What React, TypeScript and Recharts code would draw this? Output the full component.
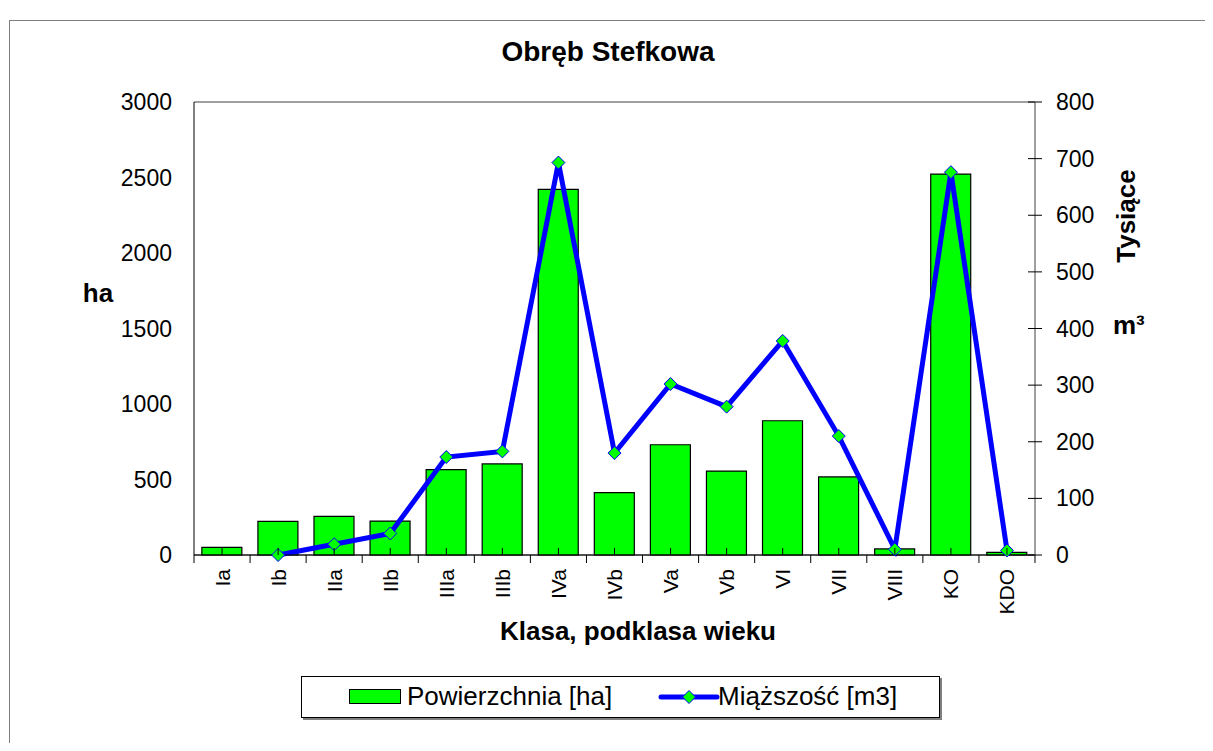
import { Bar, CartesianGrid, ComposedChart, Legend, Line, XAxis, YAxis } from 'recharts'

const CATEGORIES = ['Ia', 'Ib', 'IIa', 'IIb', 'IIIa', 'IIIb', 'IVa', 'IVb', 'Va', 'Vb', 'VI', 'VII', 'VIII', 'KO', 'KDO']
const AREA_HA = [51, 223, 256, 225, 565, 603, 2421, 413, 730, 556, 889, 517, 40, 2523, 18]
const VOLUME_K_M3 = [null, 0, 19, 38, 173, 183, 693, 180, 302, 262, 378, 210, 10, 676, 8]
const LEFT_TICKS = [0, 500, 1000, 1500, 2000, 2500, 3000]
const RIGHT_TICKS = [0, 100, 200, 300, 400, 500, 600, 700, 800]

const FONT = '"Liberation Sans", Arial, sans-serif'
const W = 1205
const H = 743
const PLOT_LEFT = 186
const PLOT_RIGHT = 1027
const PLOT_TOP = 94
const PLOT_BOTTOM = 547
const BAND = (PLOT_RIGHT - PLOT_LEFT) / CATEGORIES.length

const chartData = CATEGORIES.map((name, i) => ({
  name,
  area: AREA_HA[i],
  volume: VOLUME_K_M3[i],
}))

function Diamond(props: any) {
  const { cx, cy } = props
  if (cx == null || cy == null || props.value == null) return null
  const r = 6.5
  return (
    <polygon
      points={`${cx},${cy - r} ${cx + r},${cy} ${cx},${cy + r} ${cx - r},${cy}`}
      fill="#00ff00"
      stroke="#0000ff"
      strokeWidth={1}
    />
  )
}

function CategoryTick(props: any) {
  const { x, y, payload, index } = props
  const last = index === CATEGORIES.length - 1
  return (
    <g>
      <line x1={x - BAND / 2} x2={x - BAND / 2} y1={y} y2={y + 8} stroke="#000" />
      {last && <line x1={x + BAND / 2} x2={x + BAND / 2} y1={y} y2={y + 8} stroke="#000" />}
      <line x1={x} x2={x} y1={y - 7} y2={y} stroke="#000" />
      <text
        x={x}
        y={y + 14}
        transform={`rotate(-90, ${x}, ${y + 14})`}
        textAnchor="end"
        dominantBaseline="central"
        fontSize={21}
        fontFamily={FONT}
        fill="#000"
      >
        {payload.value}
      </text>
    </g>
  )
}

function RightTick(props: any) {
  const { x, y, payload } = props
  const axisX = x - 21
  return (
    <g>
      <line x1={axisX - 7} x2={axisX} y1={y} y2={y} stroke="#000" />
      <text x={x} y={y} textAnchor="start" dominantBaseline="central" fontSize={23} fontFamily={FONT} fill="#000">
        {payload.value}
      </text>
    </g>
  )
}

function LegendBox() {
  return (
    <div
      style={{
        position: 'relative',
        width: 639,
        height: 42,
        border: '1px solid #000',
        boxShadow: '2px 2px 0 #808080',
        background: '#fff',
        fontFamily: FONT,
        fontSize: 26,
        color: '#000',
        boxSizing: 'border-box',
      }}
    >
      <div
        style={{
          position: 'absolute',
          left: 47,
          top: 12,
          width: 50,
          height: 13,
          background: '#00ff00',
          border: '1px solid #000',
        }}
      />
      <span style={{ position: 'absolute', left: 105, top: 4, lineHeight: '30px', whiteSpace: 'nowrap' }}>
        Powierzchnia [ha]
      </span>
      <svg style={{ position: 'absolute', left: 356, top: 9 }} width={62} height={22}>
        <line x1={3} x2={59} y1={11} y2={11} stroke="#0000ff" strokeWidth={5} strokeLinecap="round" />
        <polygon points="31,4.5 37.5,11 31,17.5 24.5,11" fill="#00ff00" stroke="#0000ff" strokeWidth={1} />
      </svg>
      <span style={{ position: 'absolute', left: 416, top: 4, lineHeight: '30px', whiteSpace: 'nowrap' }}>
        Miąższość [m3]
      </span>
    </div>
  )
}

export default function App() {
  return (
    <div style={{ position: 'relative', width: W, height: H, overflow: 'hidden', marginBottom: -8 }}>
      <div
        style={{
          position: 'absolute',
          left: 1,
          top: 12,
          width: 1400,
          height: 1000,
          border: '1px solid #808080',
        }}
      />
      <ComposedChart
        width={W}
        height={H}
        data={chartData}
        margin={{ top: PLOT_TOP, right: 0, bottom: 0, left: 0 }}
        barCategoryGap="14%"
        style={{ position: 'absolute', left: 0, top: 0 }}
      >
        <text x={600} y={53} textAnchor="middle" fontSize={28} fontWeight="bold" fontFamily={FONT} fill="#000">
          Obręb Stefkowa
        </text>
        <text x={90} y={294} textAnchor="middle" fontSize={26} fontWeight="bold" fontFamily={FONT} fill="#000">
          ha
        </text>
        <text
          x={1118}
          y={208}
          transform="rotate(-90, 1118, 208)"
          textAnchor="middle"
          dominantBaseline="central"
          fontSize={26}
          fontWeight="bold"
          fontFamily={FONT}
          fill="#000"
        >
          Tysiące
        </text>
        <text x={1105} y={326} fontSize={26} fontWeight="bold" fontFamily={FONT} fill="#000">
          m³
        </text>
        <text x={630} y={632} textAnchor="middle" fontSize={26} fontWeight="bold" fontFamily={FONT} fill="#000">
          Klasa, podklasa wieku
        </text>
        <CartesianGrid vertical={false} stroke="#404040" strokeWidth={1} />
        <XAxis
          dataKey="name"
          height={H - PLOT_BOTTOM - PLOT_TOP + PLOT_TOP}
          tick={<CategoryTick />}
          tickLine={false}
          tickSize={0}
          tickMargin={0}
          interval={0}
          axisLine={{ stroke: '#000' }}
        />
        <YAxis
          yAxisId="left"
          orientation="left"
          width={PLOT_LEFT}
          domain={[0, 3000]}
          ticks={LEFT_TICKS}
          tickLine={false}
          tickSize={0}
          tickMargin={22}
          axisLine={{ stroke: '#000' }}
          tick={{ fontSize: 23, fontFamily: FONT, fill: '#000' }}
        />
        <YAxis
          yAxisId="right"
          orientation="right"
          width={W - PLOT_RIGHT}
          domain={[0, 800]}
          ticks={RIGHT_TICKS}
          tickSize={7}
          tickMargin={14}
          tickLine={{ stroke: '#000' }}
          axisLine={{ stroke: '#808080', strokeWidth: 1.5 }}
          tick={<RightTick />}
        />
        <Legend
          layout="horizontal"
          verticalAlign="middle"
          align="center"
          wrapperStyle={{ left: 293, top: 668, width: 'auto' }}
          content={<LegendBox />}
        />
        <Bar
          yAxisId="left"
          dataKey="area"
          name="Powierzchnia [ha]"
          fill="#00ff00"
          stroke="#000"
          strokeWidth={1.2}
          isAnimationActive={false}
        />
        <Line
          yAxisId="right"
          dataKey="volume"
          name="Miąższość [m3]"
          stroke="#0000ff"
          strokeWidth={5}
          dot={<Diamond />}
          activeDot={false}
          isAnimationActive={false}
        />
      </ComposedChart>
    </div>
  )
}
